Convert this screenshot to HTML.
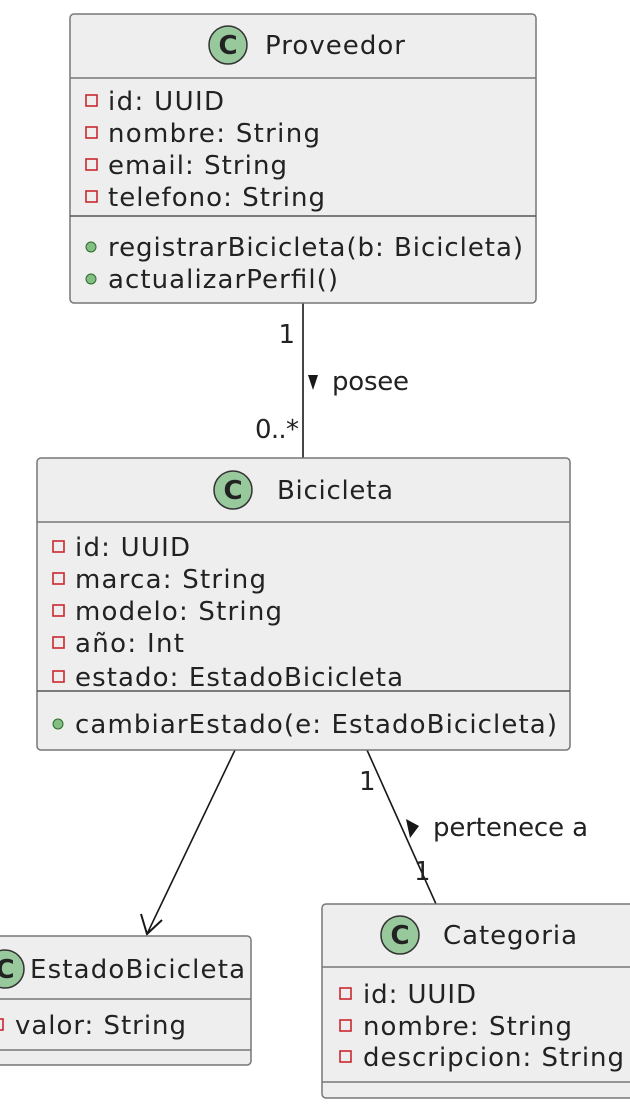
<!DOCTYPE html>
<html><head><meta charset="utf-8"><style>
html,body{margin:0;padding:0;background:#fff;width:630px;height:1116px;overflow:hidden}
text{font-family:"DejaVu Sans","Liberation Sans",sans-serif;fill:#222;font-size:26px}
</style></head><body>
<svg width="630" height="1116" xmlns="http://www.w3.org/2000/svg">
<defs>
<g id="priv"><rect x="0" y="-6" width="11" height="11" fill="none" stroke="#c82930" stroke-width="1.6"/></g>
<g id="pub"><circle cx="5" cy="0" r="5" fill="#84be84" stroke="#2a6e2a" stroke-width="1"/></g>
</defs>
<g stroke="#181818" stroke-width="1.6" fill="none">
<line x1="303" y1="303" x2="303" y2="458"/>
<line x1="235" y1="750" x2="147" y2="934"/>
<polyline points="141,914 147,934 162,920" stroke-width="2"/>
<line x1="367" y1="750" x2="436" y2="904"/>
</g>
<polygon points="308,375 318,375 313,390" fill="#181818"/>
<polygon points="406,819 419,826 410,838" fill="#181818"/>
<text x="295" y="343" text-anchor="end">1</text>
<text x="299" y="438" text-anchor="end" textLength="44">0..*</text>
<text x="332" y="390" textLength="77">posee</text>
<text x="359" y="790">1</text>
<text x="414" y="880">1</text>
<text x="433" y="836" textLength="155">pertenece a</text>

<rect x="70" y="14" width="466" height="289" rx="4" fill="#eeeeee" stroke="#777" stroke-width="1.5"/>
<line x1="70" y1="78" x2="536" y2="78" stroke="#777" stroke-width="1.5"/>
<line x1="70" y1="216" x2="536" y2="216" stroke="#555" stroke-width="1.5"/>
<circle cx="228" cy="45" r="19" fill="#98c99c" stroke="#333" stroke-width="1.5"/>
<text x="228" y="54" text-anchor="middle" font-weight="bold">C</text>
<text x="265" y="54" textLength="140">Proveedor</text>
<use href="#priv" x="86" y="101"/><text x="108" y="110" textLength="116">id: UUID</text>
<use href="#priv" x="86" y="133"/><text x="108" y="142" textLength="212">nombre: String</text>
<use href="#priv" x="86" y="165"/><text x="108" y="174" textLength="179">email: String</text>
<use href="#priv" x="86" y="197"/><text x="108" y="206" textLength="217">telefono: String</text>
<use href="#pub" x="86" y="247"/><text x="108" y="256" textLength="415">registrarBicicleta(b: Bicicleta)</text>
<use href="#pub" x="86" y="279"/><text x="108" y="288" textLength="230">actualizarPerfil()</text>

<rect x="37" y="458" width="533" height="292" rx="4" fill="#eeeeee" stroke="#777" stroke-width="1.5"/>
<line x1="37" y1="522" x2="570" y2="522" stroke="#777" stroke-width="1.5"/>
<line x1="37" y1="691" x2="570" y2="691" stroke="#555" stroke-width="1.5"/>
<circle cx="233" cy="490" r="19" fill="#98c99c" stroke="#333" stroke-width="1.5"/>
<text x="233" y="499" text-anchor="middle" font-weight="bold">C</text>
<text x="277" y="499" textLength="116">Bicicleta</text>
<use href="#priv" x="53" y="547"/><text x="75" y="556" textLength="115">id: UUID</text>
<use href="#priv" x="53" y="579"/><text x="75" y="588" textLength="191">marca: String</text>
<use href="#priv" x="53" y="611"/><text x="75" y="620" textLength="207">modelo: String</text>
<use href="#priv" x="53" y="643"/><text x="75" y="652" textLength="109">año: Int</text>
<use href="#priv" x="53" y="677"/><text x="75" y="686" textLength="328">estado: EstadoBicicleta</text>
<use href="#pub" x="53" y="724"/><text x="75" y="733" textLength="482">cambiarEstado(e: EstadoBicicleta)</text>

<rect x="-20" y="936" width="271" height="129" rx="4" fill="#eeeeee" stroke="#777" stroke-width="1.5"/>
<line x1="-20" y1="999" x2="251" y2="999" stroke="#777" stroke-width="1.5"/>
<line x1="-20" y1="1050" x2="251" y2="1050" stroke="#777" stroke-width="1.5"/>
<circle cx="5" cy="969" r="19" fill="#98c99c" stroke="#333" stroke-width="1.5"/>
<text x="5" y="978" text-anchor="middle" font-weight="bold">C</text>
<text x="30" y="978" textLength="215">EstadoBicicleta</text>
<use href="#priv" x="-8" y="1025"/><text x="15" y="1034" textLength="171">valor: String</text>

<rect x="322" y="904" width="320" height="194" rx="4" fill="#eeeeee" stroke="#777" stroke-width="1.5"/>
<line x1="322" y1="967" x2="642" y2="967" stroke="#777" stroke-width="1.5"/>
<line x1="322" y1="1082" x2="642" y2="1082" stroke="#777" stroke-width="1.5"/>
<circle cx="400" cy="935" r="19" fill="#98c99c" stroke="#333" stroke-width="1.5"/>
<text x="400" y="944" text-anchor="middle" font-weight="bold">C</text>
<text x="443" y="944" textLength="134">Categoria</text>
<use href="#priv" x="340" y="994"/><text x="363" y="1003" textLength="113">id: UUID</text>
<use href="#priv" x="340" y="1026"/><text x="363" y="1035" textLength="209">nombre: String</text>
<use href="#priv" x="340" y="1057"/><text x="363" y="1066" textLength="261">descripcion: String</text>
</svg>
</body></html>
